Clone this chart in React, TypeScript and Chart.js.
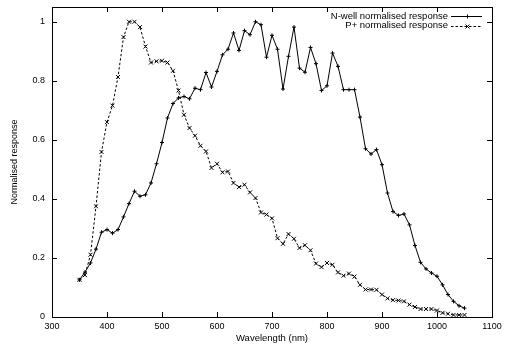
import React, { useEffect, useRef } from "react";
import { Chart, registerables } from "chart.js";

Chart.register(...registerables);

const wavelengths = [
  350, 360, 370, 380, 390, 400, 410, 420, 430, 440, 450, 460, 470, 480, 490,
  500, 510, 520, 530, 540, 550, 560, 570, 580, 590, 600, 610, 620, 630, 640,
  650, 660, 670, 680, 690, 700, 710, 720, 730, 740, 750, 760, 770, 780, 790,
  800, 810, 820, 830, 840, 850, 860, 870, 880, 890, 900, 910, 920, 930, 940,
  950, 960, 970, 980, 990, 1000, 1010, 1020, 1030, 1040, 1050,
];

const nwellResponse = [
  0.126, 0.152, 0.183, 0.23, 0.287, 0.296, 0.284, 0.296, 0.339, 0.384, 0.426,
  0.409, 0.414, 0.454, 0.519, 0.591, 0.674, 0.723, 0.742, 0.747, 0.739, 0.775,
  0.77, 0.828, 0.779, 0.832, 0.888, 0.907, 0.962, 0.903, 0.97, 0.956, 1.0,
  0.99, 0.88, 0.954, 0.907, 0.772, 0.883, 0.982, 0.843, 0.829, 0.913, 0.858,
  0.767, 0.783, 0.894, 0.849, 0.77, 0.77, 0.77, 0.677, 0.57, 0.552, 0.567,
  0.516, 0.42, 0.357, 0.344, 0.349, 0.312, 0.242, 0.185, 0.163, 0.149, 0.138,
  0.109, 0.076, 0.053, 0.038, 0.03,
];

const pplusResponse = [
  0.126, 0.142, 0.211, 0.375, 0.559, 0.66, 0.716, 0.813, 0.948, 1.0, 1.0,
  0.982, 0.916, 0.862, 0.866, 0.868, 0.862, 0.834, 0.767, 0.685, 0.64, 0.614,
  0.58, 0.561, 0.505, 0.519, 0.49, 0.493, 0.454, 0.44, 0.448, 0.422, 0.403,
  0.354, 0.347, 0.334, 0.267, 0.248, 0.281, 0.265, 0.234, 0.243, 0.226, 0.181,
  0.169, 0.183, 0.177, 0.151, 0.14, 0.147, 0.137, 0.109, 0.093, 0.093, 0.092,
  0.076, 0.063, 0.057, 0.056, 0.053, 0.042, 0.034, 0.027, 0.027, 0.027, 0.022,
  0.014, 0.011, 0.007, 0.007, 0.007,
];

const xTicks = [300, 400, 500, 600, 700, 800, 900, 1000, 1100];
const yTicks = [0, 0.2, 0.4, 0.6, 0.8, 1];

const seriesNames = ["N-well normalised response", "P+ normalised response"];

const FONT = "'Liberation Sans', Arial, Helvetica, sans-serif";
const TICK_LEN = 5;

const framePlugin = {
  id: "gnuplotFrame",
  afterDraw(chart: any) {
    const { ctx, chartArea: a, scales } = chart;
    const xs = scales.x;
    const ys = scales.y;
    ctx.save();
    ctx.strokeStyle = "#000";
    ctx.lineWidth = 1;
    ctx.setLineDash([]);
    ctx.beginPath();
    for (const v of xTicks) {
      const px = Math.round(xs.getPixelForValue(v)) + 0.5;
      ctx.moveTo(px, a.bottom);
      ctx.lineTo(px, a.bottom - TICK_LEN);
      ctx.moveTo(px, a.top);
      ctx.lineTo(px, a.top + TICK_LEN);
    }
    for (const v of yTicks) {
      const py = Math.round(ys.getPixelForValue(v)) + 0.5;
      ctx.moveTo(a.left, py);
      ctx.lineTo(a.left + TICK_LEN, py);
      ctx.moveTo(a.right, py);
      ctx.lineTo(a.right - TICK_LEN, py);
    }
    ctx.stroke();
    ctx.strokeRect(
      Math.round(a.left) + 0.5,
      Math.round(a.top) + 0.5,
      Math.round(a.right - a.left),
      Math.round(a.bottom - a.top)
    );

    // legend (gnuplot style: text right-aligned, sample on the right)
    const textRight = a.right - 44;
    const sx0 = a.right - 41;
    const sx1 = a.right - 10;
    const rows = [a.top + 9, a.top + 18.5];
    ctx.font = `9.5px ${FONT}`;
    ctx.fillStyle = "#000";
    ctx.textAlign = "right";
    ctx.textBaseline = "middle";
    chart.data.datasets.forEach((ds: any, i: number) => {
      const y = Math.round(rows[i]) + 0.5;
      ctx.fillText(ds.label, textRight, rows[i]);
      ctx.setLineDash(ds.borderDash || []);
      ctx.beginPath();
      ctx.moveTo(sx0, y);
      ctx.lineTo(sx1, y);
      ctx.stroke();
      ctx.setLineDash([]);
      const mx = Math.round((sx0 + sx1) / 2) + 0.5;
      const r = ds.pointRadius;
      ctx.beginPath();
      if (ds.pointStyle === "cross") {
        ctx.moveTo(mx - r, y);
        ctx.lineTo(mx + r, y);
        ctx.moveTo(mx, y - r);
        ctx.lineTo(mx, y + r);
      } else {
        const d = r * Math.SQRT1_2;
        ctx.moveTo(mx - d, y - d);
        ctx.lineTo(mx + d, y + d);
        ctx.moveTo(mx - d, y + d);
        ctx.lineTo(mx + d, y - d);
      }
      ctx.stroke();
    });
    ctx.restore();
  },
};

export default function App() {
  const ref = useRef<HTMLCanvasElement | null>(null);

  useEffect(() => {
    if (!ref.current) return;
    const chart = new Chart(ref.current, {
      type: "line",
      data: {
        datasets: [
          {
            label: seriesNames[0],
            data: wavelengths.map((w, i) => ({ x: w, y: nwellResponse[i] })),
            borderColor: "#000",
            backgroundColor: "#000",
            borderWidth: 1,
            pointStyle: "cross",
            pointRadius: 2,
            pointBorderWidth: 1,
            pointBorderColor: "#000",
            fill: false,
            tension: 0,
          },
          {
            label: seriesNames[1],
            data: wavelengths.map((w, i) => ({ x: w, y: pplusResponse[i] })),
            borderColor: "#000",
            backgroundColor: "#000",
            borderWidth: 1,
            borderDash: [2.5, 2],
            pointStyle: "crossRot",
            pointRadius: 2.8,
            pointBorderWidth: 1,
            pointBorderColor: "#000",
            fill: false,
            tension: 0,
          },
        ],
      },
      options: {
        responsive: false,
        animation: false,
        events: [],
        layout: { padding: { left: 0, top: 7, right: 13, bottom: 0 } },
        plugins: {
          legend: { display: false },
          tooltip: { enabled: false },
        },
        scales: {
          x: {
            type: "linear",
            min: 300,
            max: 1100,
            afterBuildTicks: (s: any) => {
              s.ticks = xTicks.map((v) => ({ value: v }));
            },
            afterFit: (s: any) => {
              s.height = 32;
              s.paddingLeft = 0;
              s.paddingRight = 0;
            },
            grid: { display: false, drawTicks: false },
            border: { display: false },
            ticks: {
              color: "#000",
              font: { family: FONT, size: 9 },
              padding: 4,
              maxRotation: 0,
              autoSkip: false,
              callback: (v: any) => String(v),
            },
            title: {
              display: true,
              text: "Wavelength (nm)",
              color: "#000",
              font: { family: FONT, size: 9.5 },
              padding: { top: 0, bottom: 5 },
            },
          },
          y: {
            type: "linear",
            min: 0,
            max: 1.05,
            afterBuildTicks: (s: any) => {
              s.ticks = yTicks.map((v) => ({ value: v }));
            },
            afterFit: (s: any) => {
              s.width = 52;
              s.paddingTop = 0;
              s.paddingBottom = 0;
            },
            grid: { display: false, drawTicks: false },
            border: { display: false },
            ticks: {
              color: "#000",
              font: { family: FONT, size: 9 },
              padding: 7,
              autoSkip: false,
              callback: (v: any) => String(v),
            },
            title: {
              display: true,
              text: "Normalised response",
              color: "#000",
              font: { family: FONT, size: 9 },
              padding: { top: 9, bottom: 0 },
            },
          },
        },
      },
      plugins: [framePlugin],
    } as any);
    return () => chart.destroy();
  }, []);

  return (
    <div style={{ position: "fixed", left: 0, top: 0, width: 505, height: 349, background: "#fff" }}>
      <canvas ref={ref} width={505} height={349} style={{ display: "block" }} />
    </div>
  );
}
